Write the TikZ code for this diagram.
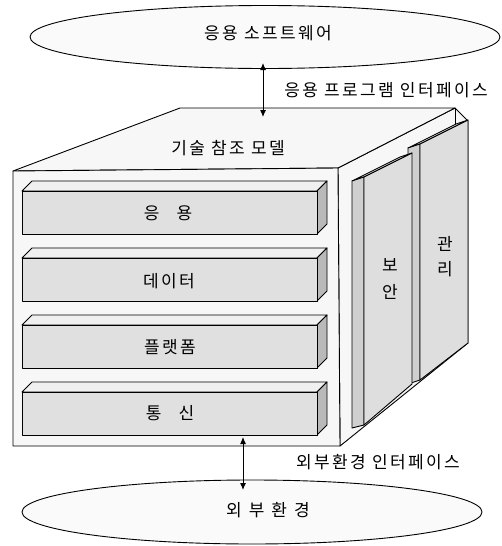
\documentclass[tikz,border=0pt]{standalone}
\usepackage{fontspec}
\setmainfont{Noto Sans CJK KR}[LetterSpace=14]
\usetikzlibrary{shapes.geometric,arrows.meta}
\begin{document}
\begin{tikzpicture}[x=1pt,y=-1pt,
  line join=round,
  edge/.style={draw=black,line width=0.9pt},
  lbl/.style={inner sep=0pt,font=\fontsize{17}{20}\selectfont,text=black},
  cloud/.style={ellipse,draw=black,line width=0.9pt,fill=gray!4,inner sep=0pt},
  cubeface/.style={edge,fill=gray!6},
  barfront/.style={edge,fill=gray!24},
  bartop/.style={edge,fill=gray!12},
  barside/.style={edge,fill=gray!55},
  panelmain/.style={edge,fill=gray!26},
  panelthin/.style={edge,fill=gray!38},
  paneltop/.style={edge,fill=gray!14},
  link/.style={line width=1pt,{Latex[length=7pt,width=6pt]}-{Latex[length=7pt,width=6pt]}}
]
\useasboundingbox (0,0) rectangle (501,546);

% ellipses
\node[cloud,minimum width=470pt,minimum height=63pt] (sw) at (265,37) {};
\node[cloud,minimum width=460pt,minimum height=64pt] (env) at (252,512) {};
\node[lbl] (swt) at (268,33) {응용 소프트웨어};
\node[lbl] (envt) at (268,510) {외\hspace{7pt}부\hspace{7pt}환\hspace{7pt}경};

% cube
\draw[cubeface] (338,168) -- (455,108) -- (468,121) -- (468,343) -- (340,446) -- cycle;
\draw[cubeface] (13,171) -- (180,108) -- (455,108) -- (338,168) -- cycle;
\draw[cubeface] (13,171) -- (338,168) -- (340,446) -- (13,446) -- cycle;
\draw[edge] (455,108) -- (455,124);

% bars
\foreach \t/\nm in {191/b1,258/b2,325/b3,392/b4}{
  \draw[bartop] (22,\t) -- (32,\t-10) -- (327,\t-10) -- (317,\t) -- cycle;
  \draw[barside] (317,\t) -- (327,\t-10) -- (327,\t+33) -- (317,\t+43) -- cycle;
  \draw[barfront] (22,\t) rectangle (317,\t+43);
}
\node[lbl] (l1) at (168,213) {응\hspace{17pt}용};
\node[lbl] (l2) at (169,281) {데이터};
\node[lbl] (l3) at (170,347) {플랫폼};
\node[lbl] (l4) at (170,413) {통\hspace{17pt}신};

% panel 관리
\draw[paneltop] (408,148) -- (420,144) -- (468,120) -- (456,124) -- cycle;
\draw[panelthin] (408,148) -- (420,144) -- (420,380) -- (408,384) -- cycle;
\draw[panelmain] (420,144) -- (468,120) -- (468,343) -- (420,380) -- cycle;
% panel 보안
\draw[paneltop] (352,181) -- (364,177) -- (412,153) -- (400,157) -- cycle;
\draw[panelthin] (352,181) -- (364,177) -- (364,425) -- (352,428) -- cycle;
\draw[panelmain] (364,177) -- (412,153) -- (412,384) -- (364,425) -- cycle;
\node[lbl,align=center,font=\fontsize{17}{27}\selectfont] (sec) at (390,279) {보\\안};
\node[lbl,align=center,font=\fontsize{17}{25}\selectfont] (mgt) at (445,257) {관\\리};

\node[lbl] (cubet) at (228,148) {기술 참조 모델};
\node[lbl] (api) at (386,90) {응용 프로그램 인터페이스};
\node[lbl] (eif) at (378,462) {외부환경 인터페이스};

% connectors
\coordinate (apitop) at (263,63);
\coordinate (apibot) at (263,117);
\draw[link] (apitop) -- (apibot);
\coordinate (eiftop) at (243,437);
\coordinate (eifbot) at (243,490);
\draw[link] (eiftop) -- (eifbot);
\end{tikzpicture}
\end{document}
